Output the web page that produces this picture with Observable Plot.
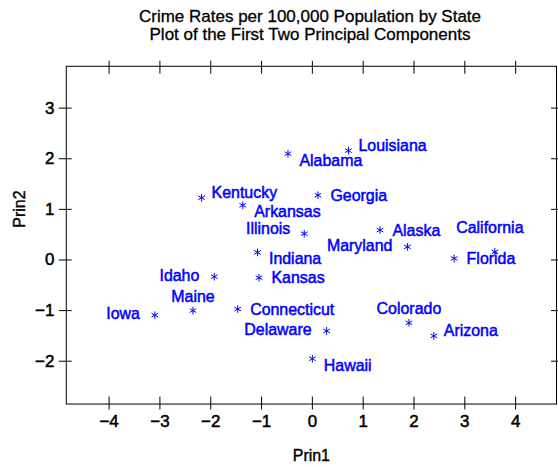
<!DOCTYPE html>
<html><head><meta charset="utf-8">
<script src="https://cdn.jsdelivr.net/npm/d3@7"></script>
<script src="https://cdn.jsdelivr.net/npm/@observablehq/plot@0.6"></script>
<style>
html,body{margin:0;padding:0;overflow:hidden;background:#fff;font-family:"Liberation Sans",Arial,sans-serif}
#wrap{position:relative;width:558px;height:467px;overflow:hidden}
#title{position:absolute;top:8px;left:310px;transform:translateX(-50%);white-space:nowrap;text-align:center;font-size:17px;line-height:18px;color:#000;-webkit-text-stroke:0.3px #000}
#chart{position:absolute;left:0;top:0}
#chart g[aria-label$="tick label"]{stroke:#000;stroke-width:0.5px;paint-order:stroke}
</style></head><body>
<div id="wrap"><div id="chart"></div><div id="title"></div></div>
<script>
const titleLines = ["Crime Rates per 100,000 Population by State", "Plot of the First Two Principal Components"];
const states = ["Alabama","Alaska","Arizona","Arkansas","California","Colorado","Connecticut","Delaware","Florida","Georgia","Hawaii","Idaho","Illinois","Indiana","Iowa","Kansas","Kentucky","Louisiana","Maine","Maryland"];
const prin1 = [-0.48, 1.33, 2.39, -1.37, 3.59, 1.90, -1.47, 0.28, 2.79, 0.11, 0.00, -1.93, -0.16, -1.08, -3.10, -1.05, -2.18, 0.71, -2.35, 1.87];
const prin2 = [2.10, 0.59, -1.50, 1.08, 0.16, -1.24, -0.97, -1.40, 0.03, 1.28, -1.95, -0.33, 0.52, 0.15, -1.09, -0.35, 1.23, 2.16, -1.00, 0.26];
const labelPos = ["rd","r","ru","rd","uu","u","r","l","r","r","rd","l","lu","rd","l","r","ru","ru","u","l"];
const xTicks = [-4, -3, -2, -1, 0, 1, 2, 3, 4];
const yTicks = [-2, -1, 0, 1, 2, 3];
const xLabel = "Prin1";
const yLabel = "Prin2";

document.getElementById("title").innerHTML = titleLines.map(t => `<div>${t}</div>`).join("");

const data = states.map((s, i) => ({state: s, p1: prin1[i], p2: prin2[i], pos: labelPos[i]}));
const placement = {
  r:  {dx: 12.5, dy: 0.5, textAnchor: "start"},
  ru: {dx: 10, dy: -5, textAnchor: "start"},
  rd: {dx: 11.5, dy: 7, textAnchor: "start"},
  l:  {dx: -15, dy: -1, textAnchor: "end"},
  lu: {dx: -14, dy: -5, textAnchor: "end"},
  u:  {dx: 0, dy: -13.5, textAnchor: "middle"},
  uu: {dx: -5, dy: -24, textAnchor: "middle"}
};
const blue = "#0000ff";
const fmt = d3.format("d");
const labelMarks = Object.entries(placement).map(([k, o]) =>
  Plot.text(data.filter(d => d.pos === k), {x: "p1", y: "p2", text: "state", fill: blue, stroke: blue, strokeWidth: 0.5, fontSize: 16, ...o}));

const chart = Plot.plot({
  width: 560, height: 467,
  marginTop: 66, marginBottom: 62, marginLeft: 66, marginRight: 2,
  style: {fontFamily: "'Liberation Sans', Arial, sans-serif", fontSize: "16px", color: "#000", background: "transparent"},
  x: {domain: [-4.843, 4.804]},
  y: {domain: [-2.846, 3.827]},
  marks: [
    Plot.frame({stroke: "#000"}),
    Plot.axisX(xTicks, {anchor: "bottom", tickSize: 13, dy: -7, tickFormat: () => "", label: null}),
    Plot.axisX(xTicks, {anchor: "top", tickSize: 13, dy: 7, tickFormat: () => "", label: null}),
    Plot.axisX(xTicks, {anchor: "bottom", tickSize: 0, tickPadding: 11, label: null, fontSize: 17, tickFormat: fmt}),
    Plot.axisY(yTicks, {anchor: "left", tickSize: 13, dx: 6, tickFormat: () => "", label: null}),
    Plot.axisY(yTicks, {anchor: "right", tickSize: 13, dx: -6, tickFormat: () => "", label: null}),
    Plot.axisY(yTicks, {anchor: "left", tickSize: 0, tickPadding: 12, label: null, fontSize: 17, tickFormat: fmt}),
    Plot.text([xLabel], {text: d => d, frameAnchor: "bottom", dy: 52, lineAnchor: "middle", fontSize: 16, fill: "#000", stroke: "#000", strokeWidth: 0.4}),
    Plot.text([yLabel], {text: d => d, frameAnchor: "left", dx: -47, dy: -7.5, rotate: -90, fontSize: 16, fill: "#000", stroke: "#000", strokeWidth: 0.4}),
    Plot.dot(data, {x: "p1", y: "p2", symbol: "asterisk", r: 3.6, stroke: blue, fill: "none", strokeWidth: 1}),
    ...labelMarks
  ]
});
document.getElementById("chart").appendChild(chart);
</script>
</body></html>
